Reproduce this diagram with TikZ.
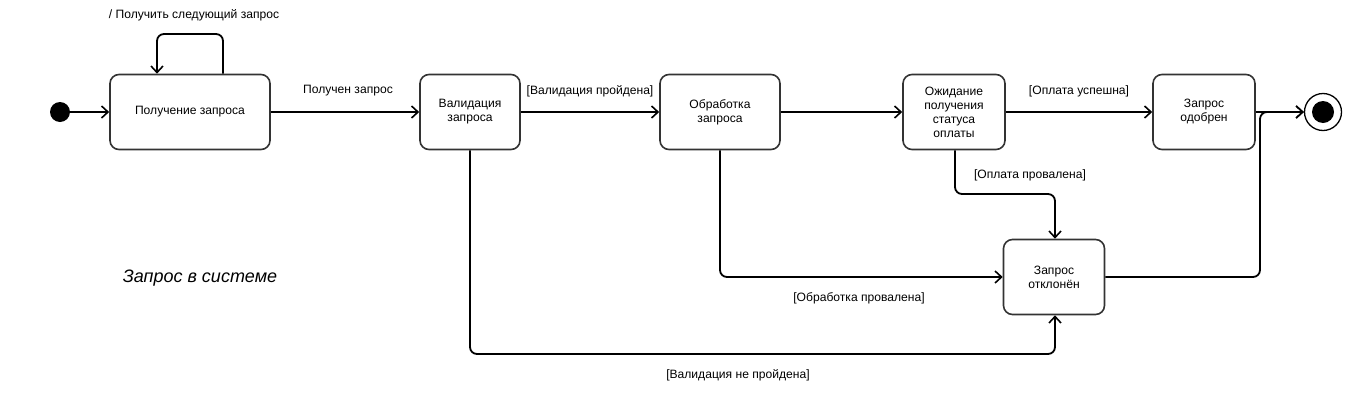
\documentclass[tikz,border=0pt]{standalone}
\usepackage{fontspec}
\setmainfont{Liberation Sans}
\usetikzlibrary{arrows.meta}
\begin{document}
\begin{tikzpicture}[x=1pt,y=-1pt,
  state/.style={draw=black!80,line width=1.6pt,rounded corners=9pt,fill=white,align=center,inner sep=0pt,font=\fontsize{12.1}{14}\selectfont},
  conn/.style={line width=1.8pt,rounded corners=7pt,-{Straight Barb[length=6.5pt,width=12pt,line width=1.6pt]}},
  lbl/.style={font=\fontsize{12.1}{14}\selectfont,inner sep=0pt}]
\useasboundingbox (0,0) rectangle (1360,402);
\node[circle,fill=black,minimum size=20pt,inner sep=0pt] (init) at (60,112) {};
\node[state,minimum width=160pt,minimum height=75pt] (s1) at (190,112) {Получение запроса};
\node[state,minimum width=100pt,minimum height=75pt] (s2) at (470,112) {Валидация\\запроса};
\node[state,minimum width=120pt,minimum height=75pt] (s3) at (720,112) {Обработка\\запроса};
\node[state,minimum width=102pt,minimum height=75pt] (s4) at (954,112) {Ожидание\\получения\\статуса\\оплаты};
\node[state,minimum width=102pt,minimum height=75pt] (s5) at (1204,112) {Запрос\\одобрен};
\node[state,minimum width=101pt,minimum height=75pt] (s6) at (1054,277) {Запрос\\отклонён};
\node[circle,draw=black,line width=1.3pt,minimum size=37pt,inner sep=0pt,fill=white] (fin) at (1323,112) {};
\node[circle,fill=black,minimum size=22pt,inner sep=0pt] (finin) at (fin) {};

\draw[conn] (s1.north -| 223,0) -- (223,34) -- (157,34) -- (s1.north -| 157,0);
\draw[conn] (init) -- (s1);
\draw[conn] (s1) -- (s2);
\draw[conn] (s2) -- (s3);
\draw[conn] (s3) -- (s4);
\draw[conn] (s4) -- (s5);
\draw[conn] (s5) -- (fin);
\draw[conn] (s4.south -| 955,0) -- (955,194) -- (1055,194) -- (s6.north -| 1055,0);
\draw[conn] (s3.south) -- (720,277) -- (s6.west);
\draw[conn] (s2.south) -- (470,354) -- (1055,354) -- (s6.south -| 1055,0);
\draw[conn] (s6.east) -- (1260,277) -- (1260,112) -- (fin.west);

\node[lbl] (l0) at (194,15) {/ Получить следующий запрос};
\node[lbl] (l1) at (348,91) {Получен запрос};
\node[lbl] (l2) at (590,91) {[Валидация пройдена]};
\node[lbl] (l3) at (1079,91) {[Оплата успешна]};
\node[lbl] (l4) at (1030,175) {[Оплата провалена]};
\node[lbl] (l5) at (859,298) {[Обработка провалена]};
\node[lbl] (l6) at (738,375) {[Валидация не пройдена]};
\node[font=\fontsize{18}{20}\selectfont\itshape,inner sep=0pt] (title) at (200,278) {Запрос в системе};
\end{tikzpicture}
\end{document}
